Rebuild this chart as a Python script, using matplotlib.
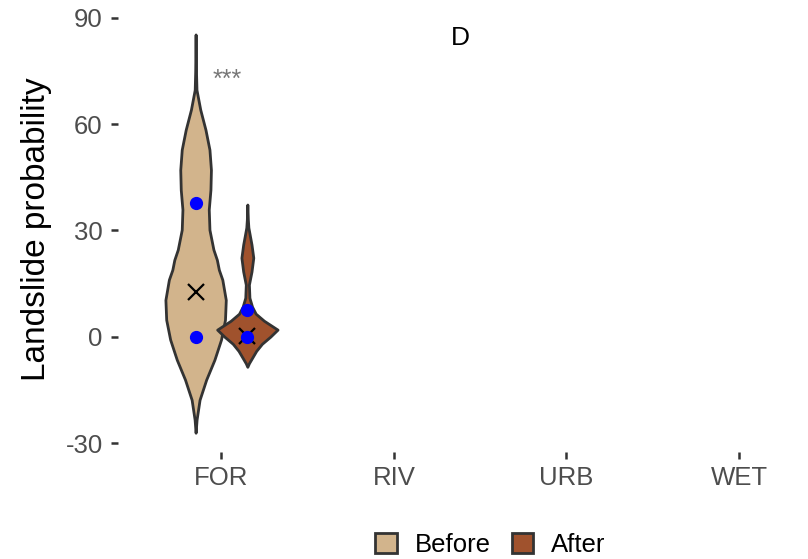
import numpy as np
import matplotlib.pyplot as plt
from matplotlib.patches import Patch

plt.rcParams['font.family'] = ['Liberation Sans', 'DejaVu Sans']
plt.rcParams['axes.unicode_minus'] = False

# Land-cover classes on the x axis
categories = ['FOR', 'RIV', 'URB', 'WET']
groups = ['Before', 'After']
colors = {'Before': '#D2B48C', 'After': '#A0522D'}

# Violin outlines: value -> relative half width
before_y = [85.3, 75.0, 69.7, 64.1, 58.4, 52.8, 47.1, 41.5, 35.9, 30.2, 24.6, 21.7,
            18.9, 16.1, 10.4, 4.8, -0.8, -6.5, -12.1, -17.8, -23.4, -27.1]
before_w = [0, 0.4, 0.9, 4.7, 10, 14, 15.5, 15, 13.3, 14, 18, 21.5,
            23.5, 27, 30.5, 29.7, 25.7, 19, 10.7, 4, 1, 0]

after_y = [37.3, 33.0, 30.8, 26.0, 22.3, 18.4, 14.7, 11.0, 8.5, 6.5, 4.5, 2.0,
           0.0, -2.0, -4.0, -6.0, -7.5, -8.5]
after_w = [0, 0.5, 1, 4, 5.7, 4, 1.5, 2, 4.5, 8, 16, 29,
           22, 14, 8.5, 4.5, 1.5, 0]

# summary marks
before_mean = 12.7
after_mean = 0.3
before_quart = [0.0, 37.8]
after_quart = [0.0, 7.6]

fig = plt.figure(figsize=(8.08, 5.59), dpi=100)
ax = fig.add_axes([0.146, 0.191, 0.854, 0.781])

dodge = 0.15
vwidth = 0.35
profiles = [(before_y, before_w, before_mean, before_quart, -dodge, 'Before'),
            (after_y, after_w, after_mean, after_quart, dodge, 'After')]

for ys, ws, mean, quart, off, name in profiles:
    stats = [{'coords': np.array(ys), 'vals': np.array(ws, dtype=float),
              'mean': mean, 'median': mean, 'min': min(ys), 'max': max(ys)}]
    parts = ax.violin(stats, positions=[0 + off], widths=vwidth,
                      showmeans=False, showextrema=False, showmedians=False)
    for body in parts['bodies']:
        body.set_facecolor(colors[name])
        body.set_edgecolor('#333333')
        body.set_linewidth(2.0)
        body.set_alpha(1)
        body.set_zorder(2)
    ax.plot([0 + off], [mean], marker='x', color='black', markersize=11,
            markeredgewidth=1.6, linestyle='none', zorder=3)
    ax.plot([0 + off] * len(quart), quart, marker='o', color='#0000FF',
            markersize=8.5, linestyle='none', zorder=4)

ax.text(0.032, 72.6, '***', ha='center', va='center', fontsize=18, color='#777777')
ax.text(1.387, 84.4, 'D', ha='center', va='center', fontsize=19, color='black')

ax.set_xlim(-0.6, 3.4)
ax.set_ylim(-32.6, 90.6)
ax.set_xticks(range(len(categories)))
ax.set_xticklabels(categories)
ax.set_yticks([-30, 0, 30, 60, 90])
ax.tick_params(axis='both', colors='#333333', labelcolor='#4D4D4D',
               labelsize=18.5, length=5, width=1.8)
ax.tick_params(axis='y', pad=6)
ax.tick_params(axis='x', pad=5)
for s in ax.spines.values():
    s.set_visible(False)

ax.set_ylabel('Landslide probability', fontsize=24, color='black')
ax.yaxis.set_label_coords(-0.095, 0.51)

handles = [Patch(facecolor=colors[g], edgecolor='#333333', linewidth=2, label=g) for g in groups]
fig.legend(handles=handles, loc='center', bbox_to_anchor=(0.607, 0.025), ncol=2,
           frameon=False, fontsize=18.5, handlelength=0.85, handleheight=0.85,
           handletextpad=0.7, columnspacing=0.8, borderpad=0)

fig.savefig('out.png', dpi=100)
